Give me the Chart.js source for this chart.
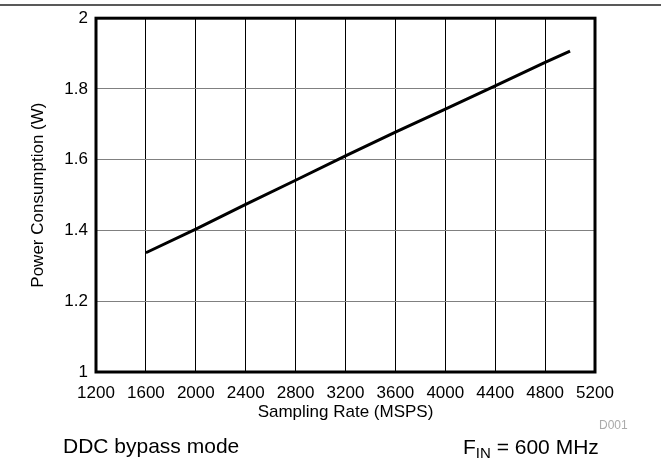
<!DOCTYPE html>
<html>
<head>
<meta charset="utf-8">
<script src="https://cdn.jsdelivr.net/npm/chart.js@4/dist/chart.umd.min.js"></script>
<style>
html,body{margin:0;padding:0;background:#fff;}
canvas{display:block;}
</style>
</head>
<body>
<canvas id="c" width="661" height="461"></canvas>
<script>
// Data
const samplingRate = [1600, 2000, 2400, 2800, 3200, 3600, 4000, 4400, 4800, 5000];
const powerW = [1.337, 1.404, 1.474, 1.542, 1.611, 1.678, 1.743, 1.809, 1.875, 1.907];
const xTickValues = [1200, 1600, 2000, 2400, 2800, 3200, 3600, 4000, 4400, 4800, 5200];
const yTickLabels = ['1', '1.2', '1.4', '1.6', '1.8', '2'];
const xTitle = 'Sampling Rate (MSPS)';
const yTitle = 'Power Consumption (W)';
const noteLeft = 'DDC bypass mode';
const noteRightMain = 'F';
const noteRightSub = 'IN';
const noteRightRest = ' = 600 MHz';
const figId = 'D001';

const FONT = "'Liberation Sans', Arial, Helvetica, sans-serif";

const frame = {
  id: 'frame',
  afterDraw(chart) {
    const ctx = chart.ctx;
    const a = chart.chartArea;
    ctx.save();
    // top rule
    ctx.strokeStyle = '#222';
    ctx.lineWidth = 1.5;
    ctx.beginPath();
    ctx.moveTo(0, 5); ctx.lineTo(661, 5);
    ctx.stroke();
    // plot border
    ctx.strokeStyle = '#000';
    ctx.lineWidth = 3;
    ctx.strokeRect(a.left, a.top, a.right - a.left, a.bottom - a.top);
    // annotations
    ctx.fillStyle = '#000';
    ctx.textBaseline = 'alphabetic';
    ctx.textAlign = 'left';
    ctx.font = '21px ' + FONT;
    ctx.fillText(noteLeft, 63, 453);
    let x = 463;
    ctx.fillText(noteRightMain, x, 454);
    x += ctx.measureText(noteRightMain).width;
    ctx.font = '15px ' + FONT;
    ctx.fillText(noteRightSub, x, 458);
    x += ctx.measureText(noteRightSub).width;
    ctx.font = '21px ' + FONT;
    ctx.fillText(noteRightRest, x, 454);
    ctx.font = '12px ' + FONT;
    ctx.fillStyle = '#aaa';
    ctx.fillText(figId, 599, 429);
    ctx.restore();
  }
};

new Chart(document.getElementById('c'), {
  type: 'line',
  data: {
    datasets: [{
      data: samplingRate.map((v, i) => ({x: v, y: powerW[i]})),
      borderColor: '#000',
      borderWidth: 3,
      pointRadius: 0,
      tension: 0,
      fill: false
    }]
  },
  options: {
    responsive: false,
    animation: false,
    devicePixelRatio: 1,
    layout: {padding: {top: 18, right: 66, bottom: 0, left: 0}},
    plugins: {legend: {display: false}, tooltip: {enabled: false}},
    scales: {
      x: {
        type: 'linear',
        min: 1200, max: 5200,
        afterBuildTicks(scale) { scale.ticks = xTickValues.map(v => ({value: v})); },
        afterFit(scale) { scale.height = 89; },
        grid: {color: '#000', lineWidth: 1, drawTicks: false},
        border: {display: false},
        ticks: {
          color: '#000',
          font: {family: FONT, size: 17},
          padding: 11,
          maxRotation: 0,
          autoSkip: false,
          callback: (v) => String(v)
        },
        title: {
          display: true, text: xTitle, color: '#000',
          font: {family: FONT, size: 17},
          padding: {top: 0, bottom: 38}
        }
      },
      y: {
        type: 'linear',
        min: 1, max: 2,
        afterBuildTicks(scale) { scale.ticks = yTickLabels.map(v => ({value: parseFloat(v)})); },
        afterFit(scale) { scale.width = 96; },
        grid: {color: '#808080', lineWidth: 1, drawTicks: false},
        border: {display: false},
        ticks: {
          color: '#000',
          font: {family: FONT, size: 17},
          padding: 8,
          autoSkip: false,
          callback: (v, i) => yTickLabels[i]
        },
        title: {
          display: true, text: yTitle, color: '#000',
          font: {family: FONT, size: 17},
          padding: {top: 28, bottom: 0}
        }
      }
    }
  },
  plugins: [frame]
});
</script>
</body>
</html>
